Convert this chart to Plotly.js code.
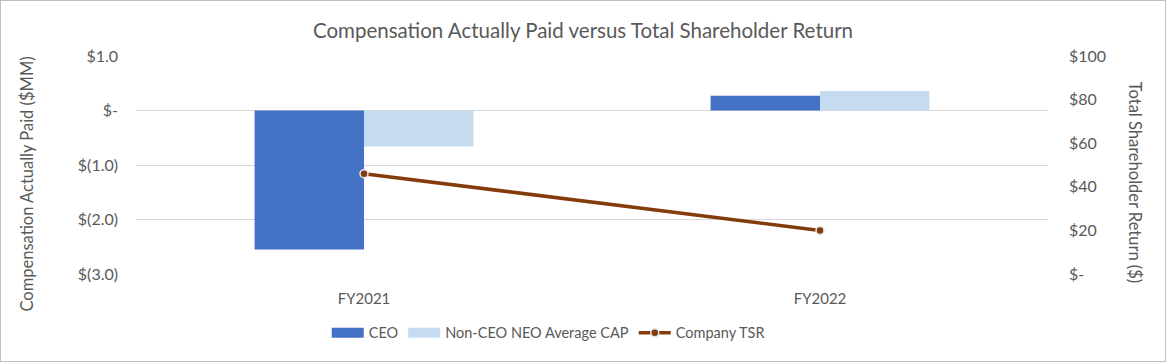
<!DOCTYPE html>
<html>
<head>
<meta charset="utf-8">
<script src="https://cdn.plot.ly/plotly-3.0.1.min.js"></script>
<style>
html,body{margin:0;padding:0;background:#fff;}
#chart{width:1164px;height:360px;border:1px solid #bfbfbf;}
</style>
</head>
<body>
<div id="chart"></div>
<script>
const categories = ["FY2021", "FY2022"];
const ceoCap = [-2.55, 0.27];
const neoCap = [-0.66, 0.36];
const companyTsr = [46, 20];
const leftTickVals = [-3, -2, -1, 0, 1];
const leftTickText = ["$(3.0)", "$(2.0)", "$(1.0)", "$-", "$1.0"];
const rightTickVals = [0, 20, 40, 60, 80, 100];
const rightTickText = ["$-", "$20", "$40", "$60", "$80", "$100"];

const FONT = "Lato, 'Open Sans', sans-serif";
const GREY = "#595959";
const CEO_COLOR = "#4472c4";
const NEO_COLOR = "#c5dcf0";

const traces = [
  {type: "bar", name: "CEO", x: categories, y: ceoCap, marker: {color: CEO_COLOR}, yaxis: "y", showlegend: false},
  {type: "bar", name: "Non-CEO NEO Average CAP", x: categories, y: neoCap, marker: {color: NEO_COLOR}, yaxis: "y", showlegend: false},
  {type: "scatter", mode: "lines+markers", name: "Company TSR", x: categories, y: companyTsr, yaxis: "y2", showlegend: false,
   line: {color: "#843c0c", width: 3.5},
   marker: {color: "#843c0c", size: 8, line: {color: "#dfe6f0", width: 1.5}}},
  // legend-only entries (wide swatches like the original)
  {type: "scatter", mode: "lines", name: "CEO", x: [null], y: [null], line: {color: CEO_COLOR, width: 10}},
  {type: "scatter", mode: "lines", name: "Non-CEO NEO Average CAP", x: [null], y: [null], line: {color: NEO_COLOR, width: 10}},
  {type: "scatter", mode: "lines+markers", name: "Company TSR", x: [null], y: [null], line: {color: "#843c0c", width: 3.5},
   marker: {color: "#843c0c", size: 8, line: {color: "#dfe6f0", width: 1.5}}}
];

const layout = {
  width: 1164, height: 360,
  margin: {l: 135, r: 117, t: 55, b: 87},
  paper_bgcolor: "#fff", plot_bgcolor: "#fff",
  font: {family: FONT, color: GREY, size: 16},
  title: {text: "Compensation Actually Paid versus Total Shareholder Return", x: 0.5, xanchor: "center", y: 0.918, yanchor: "middle", font: {size: 20.5, color: GREY, family: FONT}},
  barmode: "group", bargap: 0.52, bargroupgap: 0,
  showlegend: true,
  legend: {orientation: "h", x: 0.452, xanchor: "center", y: -0.27, yanchor: "middle", font: {size: 14.5, color: GREY}, traceorder: "normal", itemwidth: 32},
  xaxis: {type: "category", showgrid: false, showline: false, ticks: "", ticklabelstandoff: 14, tickfont: {size: 15, color: GREY}},
  yaxis: {range: [-3, 1], tickvals: leftTickVals, ticktext: leftTickText, showgrid: true, gridcolor: "#d9d9d9", gridwidth: 1,
          zeroline: true, zerolinecolor: "#d9d9d9", zerolinewidth: 1, ticks: "", ticklen: 0, ticklabelstandoff: 17, tickfont: {size: 16, color: GREY}},
  yaxis2: {range: [0, 100], overlaying: "y", side: "right", tickvals: rightTickVals, ticktext: rightTickText, showgrid: false, zeroline: false,
           tickfont: {size: 16, color: GREY}, ticks: "", ticklabelstandoff: 20},
  annotations: [
    {text: "Compensation Actually Paid ($MM)", xref: "paper", yref: "paper", x: -0.12, y: 0.413, xanchor: "center", yanchor: "middle",
     textangle: -90, showarrow: false, font: {size: 16.5, color: GREY}},
    {text: "Total Shareholder Return ($)", xref: "paper", yref: "paper", x: 1.095, y: 0.42, xanchor: "center", yanchor: "middle",
     textangle: 90, showarrow: false, font: {size: 16.5, color: GREY}}
  ]
};

Plotly.newPlot("chart", traces, layout, {displayModeBar: false, staticPlot: true});
</script>
</body>
</html>
